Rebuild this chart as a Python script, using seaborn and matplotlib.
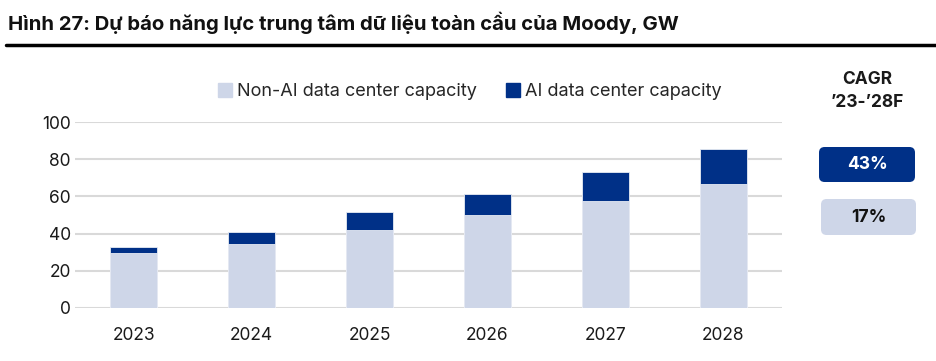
import matplotlib
matplotlib.use("Agg")
import matplotlib.pyplot as plt
from matplotlib.patches import Patch, FancyBboxPatch
import pandas as pd
import seaborn as sns

# chart values
years = ["2023", "2024", "2025", "2026", "2027", "2028"]
non_ai = [29.7, 34.2, 41.9, 49.8, 57.6, 66.6]
ai = [2.9, 6.5, 9.6, 11.4, 15.4, 18.8]
cagr_labels = ["43%", "17%"]
yticks = [0, 20, 40, 60, 80, 100]

dark = "#003087"
light = "#CED6E8"

sns.set_theme(style="white")
plt.rcParams["font.family"] = ["Inter", "DejaVu Sans"]

df = pd.DataFrame({"year": years, "non_ai": non_ai, "ai": ai})
df["total"] = df["non_ai"] + df["ai"]

fig = plt.figure(figsize=(9.36, 3.61), dpi=100)
ax = fig.add_axes([0.0801, 0.1476, 0.7554, 0.5136])

# stacked bars: total in dark, non-AI drawn over it
sns.barplot(data=df, x="year", y="total", color=dark, width=0.4,
            saturation=1, ax=ax, zorder=3, edgecolor="#E8ECF4", linewidth=0.6)
sns.barplot(data=df, x="year", y="non_ai", color=light, width=0.4,
            saturation=1, ax=ax, zorder=3, edgecolor="#E8ECF4", linewidth=0.6)

ax.set_ylim(0, 100)
ax.set_xlim(-0.5, 5.5)
ax.set_yticks(yticks)
ax.yaxis.grid(True, color="#D9D9D9", linewidth=1.5, zorder=0)
ax.set_axisbelow(True)
for s in ax.spines.values():
    s.set_visible(False)
ax.set_xlabel("")
ax.set_ylabel("")
ax.tick_params(axis="both", length=0, labelsize=12.5, labelcolor="#1a1a1a")
ax.tick_params(axis="x", pad=14)
ax.tick_params(axis="y", pad=3)

# legend
handles = [Patch(color=light, label="Non-AI data center capacity"),
           Patch(color=dark, label="AI data center capacity")]
fig.legend(handles=handles, loc="center left", bbox_to_anchor=(0.216, 0.746),
           ncol=2, frameon=False, fontsize=13, handlelength=0.75,
           handleheight=0.75, handletextpad=0.3, columnspacing=1.6)

# title and rule
fig.text(0.009, 0.938, "Hình 27: Dự báo năng lực trung tâm dữ liệu toàn cầu của Moody, GW",
         fontsize=14.6, fontweight="bold", color="#111111", va="center", ha="left")
fig.add_artist(plt.Line2D([0.006, 1.0], [0.875, 0.875], color="black",
                          linewidth=2.5, transform=fig.transFigure))

# CAGR panel
fig.text(0.927, 0.781, "CAGR", fontsize=12.5, fontweight="bold",
         ha="center", va="center", color="#1a1a1a")
fig.text(0.927, 0.716, "\u201923-\u201928F", fontsize=12.5, fontweight="bold",
         ha="center", va="center", color="#1a1a1a")

box_specs = [(819, 147, 96, 35, dark, "white"), (821, 199, 95, 36, light, "#111111")]
for (bx, by, bw, bh, fc, tc), lab in zip(box_specs, cagr_labels):
    x0 = bx / 936
    y0 = 1 - (by + bh) / 361
    w = bw / 936
    h = bh / 361
    box = FancyBboxPatch((x0, y0), w, h, boxstyle="round,pad=0,rounding_size=0.006",
                         transform=fig.transFigure, facecolor=fc, edgecolor="none",
                         mutation_aspect=936 / 361)
    fig.add_artist(box)
    fig.text(x0 + w / 2, y0 + h / 2, lab, fontsize=12.5, fontweight="bold",
             ha="center", va="center", color=tc)

fig.savefig("out.png", dpi=100)
